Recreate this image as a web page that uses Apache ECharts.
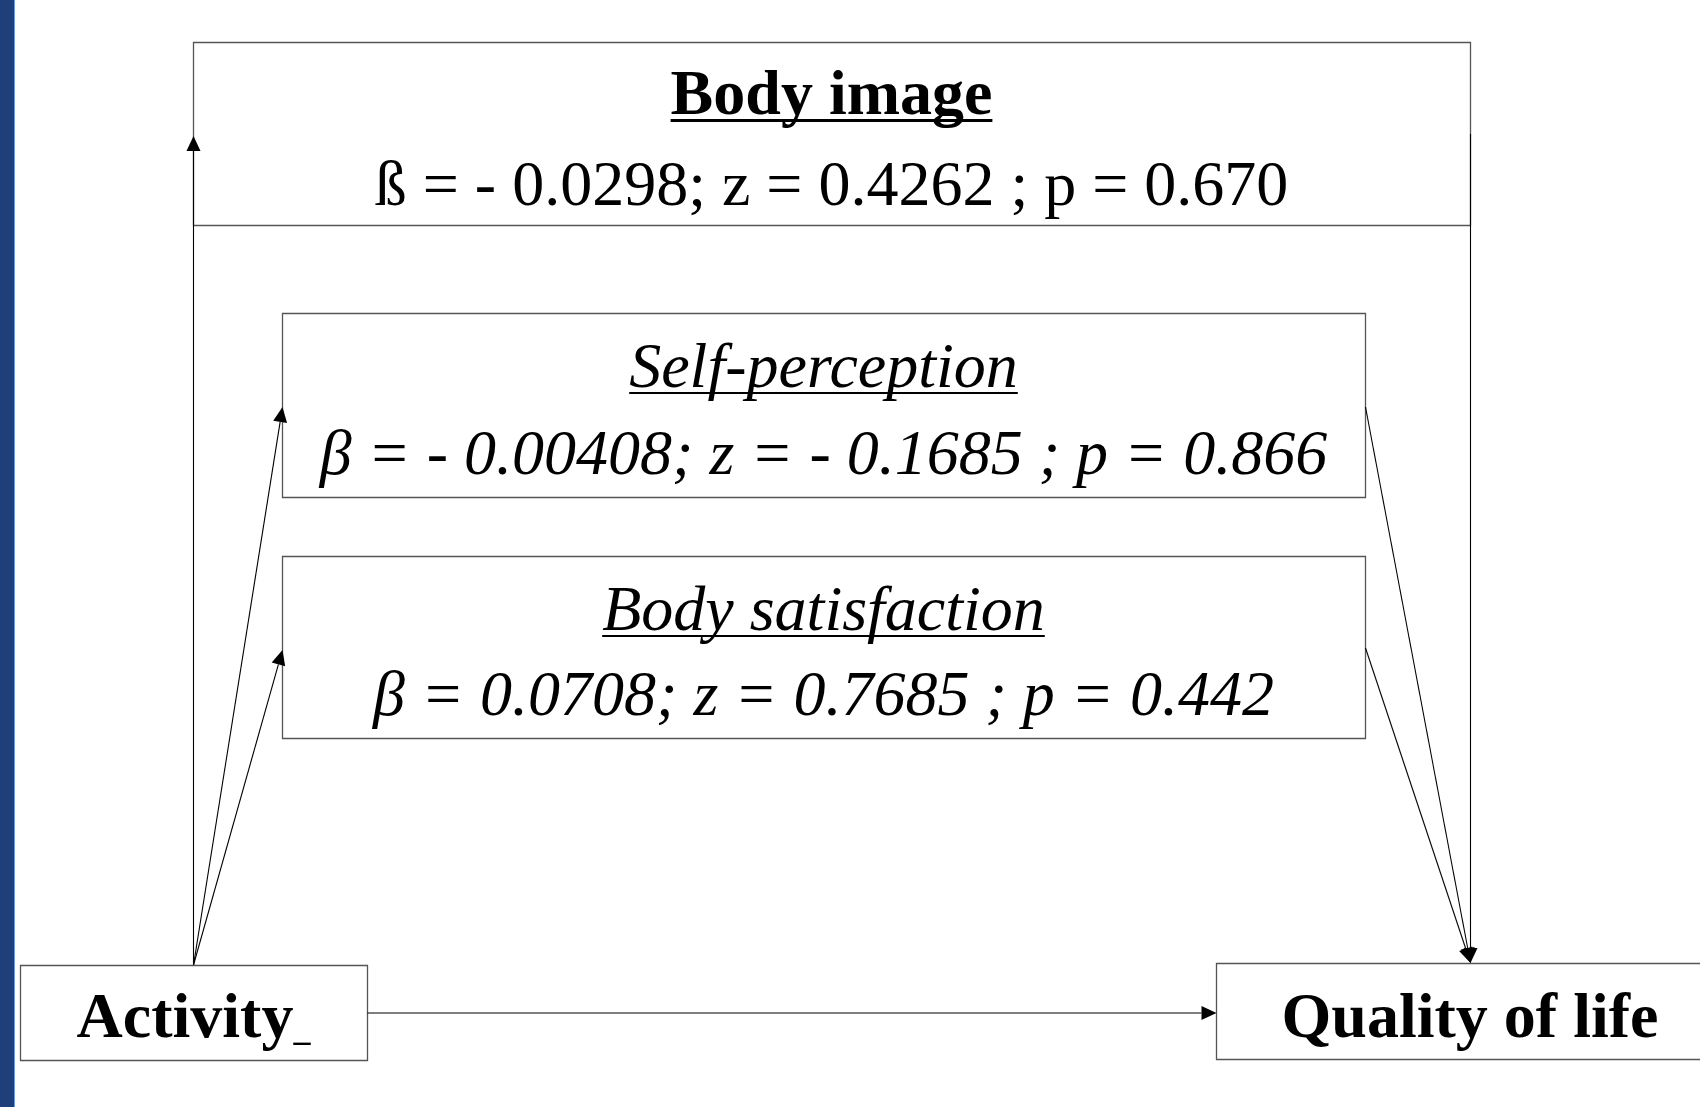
<!DOCTYPE html>
<html>
<head>
<meta charset="utf-8">
<script src="https://cdn.jsdelivr.net/npm/echarts@6/dist/echarts.min.js"></script>
<style>
html, body { margin: 0; padding: 0; background: #fff; }
#chart { width: 1700px; height: 1107px; }
</style>
</head>
<body>
<div id="chart"></div>
<script>
// mediator boxes (top to bottom)
const mediatorTitles = ['Body image', 'Self-perception', 'Body satisfaction']
const mediatorStats = [
  'ß = - 0.0298; z = 0.4262 ; p = 0.670',
  'β = - 0.00408; z = - 0.1685 ; p = 0.866',
  'β = 0.0708; z = 0.7685 ; p = 0.442'
]
const mediatorItalic = [false, true, true]

// end nodes
const nodeLabels = ['Activity', 'Quality of life']

// box layout in diagram units (x0, y0, x1, y1)
const boxX0 = [193, 282, 282, 20, 1216]
const boxY0 = [42, 313, 556, 965, 963]
const boxX1 = [1470, 1365, 1365, 367, 1720]
const boxY1 = [225, 497, 738, 1060, 1059]

// paths (from -> to)
const pathFromX = [193, 193, 193, 367, 1470, 1365, 1365]
const pathFromY = [965, 965, 965, 1013, 134, 407, 648]
const pathToX = [193, 282, 282, 1216, 1470, 1470, 1470]
const pathToY = [136, 407, 650, 1013, 963, 963, 963]

const SERIF = '"Liberation Serif", "Times New Roman", serif'
const FS = 64
const MID = 0.273 * FS // baseline offset from text middle

const measureCtx = document.createElement('canvas').getContext('2d')
const textWidth = (s, font) => {
  measureCtx.font = font
  return measureCtx.measureText(s).width
}

const chart = echarts.init(document.getElementById('chart'))

const boxData = boxX0.map((x, i) => [x, boxY0[i], boxX1[i], boxY1[i]])
const pathData = pathFromX.map((x, i) => [x, pathFromY[i], pathToX[i], pathToY[i]])

// text rows: [cx, baseline, kind, idx]
const titleBase = [115, 388, 631]
const statBase = [206, 475, 716]
const textData = []
mediatorTitles.forEach((t, i) => {
  const cx = (boxX0[i] + boxX1[i]) / 2
  textData.push([cx, titleBase[i], 0, i])
  textData.push([cx, statBase[i], 1, i])
})
textData.push([(boxX0[3] + boxX1[3]) / 2, 1038, 2, 0])
textData.push([1470, 1038, 2, 1])

chart.setOption({
  animation: false,
  grid: { left: 0, right: 0, top: 0, bottom: 0 },
  xAxis: { type: 'value', min: 0, max: 1700, show: false },
  yAxis: { type: 'value', min: 0, max: 1107, inverse: true, show: false },
  graphic: [
    { type: 'rect', shape: { x: 0, y: 0, width: 15, height: 1107 }, style: { fill: '#1f3f7a' }, z: 10 },
    { type: 'rect', shape: { x: 14, y: 0, width: 1, height: 1107 }, style: { fill: '#6d9de0' }, z: 10 }
  ],
  series: [
    {
      type: 'custom',
      coordinateSystem: 'cartesian2d',
      data: boxData,
      z: 1,
      renderItem: (params, api) => {
        const p0 = api.coord([api.value(0), api.value(1)])
        const p1 = api.coord([api.value(2), api.value(3)])
        return {
          type: 'rect',
          shape: { x: Math.round(p0[0]) + 0.5, y: Math.round(p0[1]) + 0.5, width: p1[0] - p0[0], height: p1[1] - p0[1] },
          style: { fill: '#fff', stroke: '#555', lineWidth: 1.3 }
        }
      }
    },
    {
      type: 'custom',
      coordinateSystem: 'cartesian2d',
      data: pathData,
      z: 2,
      renderItem: (params, api) => {
        const a = api.coord([api.value(0), api.value(1)])
        const b = api.coord([api.value(2), api.value(3)])
        const dx = b[0] - a[0], dy = b[1] - a[1]
        const len = Math.sqrt(dx * dx + dy * dy)
        const ux = dx / len, uy = dy / len
        const L = 15, W = 7
        const bx = b[0] - ux * L, by = b[1] - uy * L
        return {
          type: 'group',
          children: [
            {
              type: 'line',
              shape: { x1: a[0] + 0.5, y1: a[1], x2: bx + 0.5, y2: by },
              style: { stroke: '#000', lineWidth: 1.1 }
            },
            {
              type: 'polygon',
              shape: { points: [[b[0] + 0.5, b[1]], [bx - uy * W + 0.5, by + ux * W], [bx + uy * W + 0.5, by - ux * W]] },
              style: { fill: '#000' }
            }
          ]
        }
      }
    },
    {
      type: 'custom',
      coordinateSystem: 'cartesian2d',
      data: textData,
      z: 3,
      renderItem: (params, api) => {
        const p = api.coord([api.value(0), api.value(1)])
        const kind = api.value(2)
        const idx = api.value(3)
        const children = []
        if (kind === 0) {
          const italic = mediatorItalic[idx]
          const font = (italic ? 'italic ' : 'bold ') + FS + 'px ' + SERIF
          const s = mediatorTitles[idx]
          const w = textWidth(s, font)
          children.push({
            type: 'text',
            style: { text: s, x: p[0], y: p[1] - MID, align: 'center', verticalAlign: 'middle', font: font, fill: '#000' }
          })
          const th = italic ? 2 : 3
          children.push({
            type: 'rect',
            shape: { x: p[0] - w / 2, y: p[1] + 4, width: w, height: th },
            style: { fill: '#000' }
          })
        } else if (kind === 1) {
          const font = (mediatorItalic[idx] ? 'italic ' : '') + FS + 'px ' + SERIF
          children.push({
            type: 'text',
            style: { text: mediatorStats[idx], x: p[0], y: p[1] - MID, align: 'center', verticalAlign: 'middle', font: font, fill: '#000' }
          })
        } else {
          const font = 'bold ' + FS + 'px ' + SERIF
          const s = nodeLabels[idx]
          if (idx === 0) {
            const small = 'bold 34px ' + SERIF
            const w1 = textWidth(s, font)
            const w2 = textWidth('_', small)
            const x0 = p[0] - (w1 + w2) / 2
            children.push({
              type: 'text',
              style: { text: s, x: x0, y: p[1] - MID, align: 'left', verticalAlign: 'middle', font: font, fill: '#000' }
            })
            children.push({
              type: 'text',
              style: { text: '_', x: x0 + w1, y: p[1] + 3 - 0.273 * 34, align: 'left', verticalAlign: 'middle', font: small, fill: '#000' }
            })
          } else {
            children.push({
              type: 'text',
              style: { text: s, x: p[0], y: p[1] - MID, align: 'center', verticalAlign: 'middle', font: font, fill: '#000' }
            })
          }
        }
        return { type: 'group', children: children }
      }
    }
  ]
})
</script>
</body>
</html>
